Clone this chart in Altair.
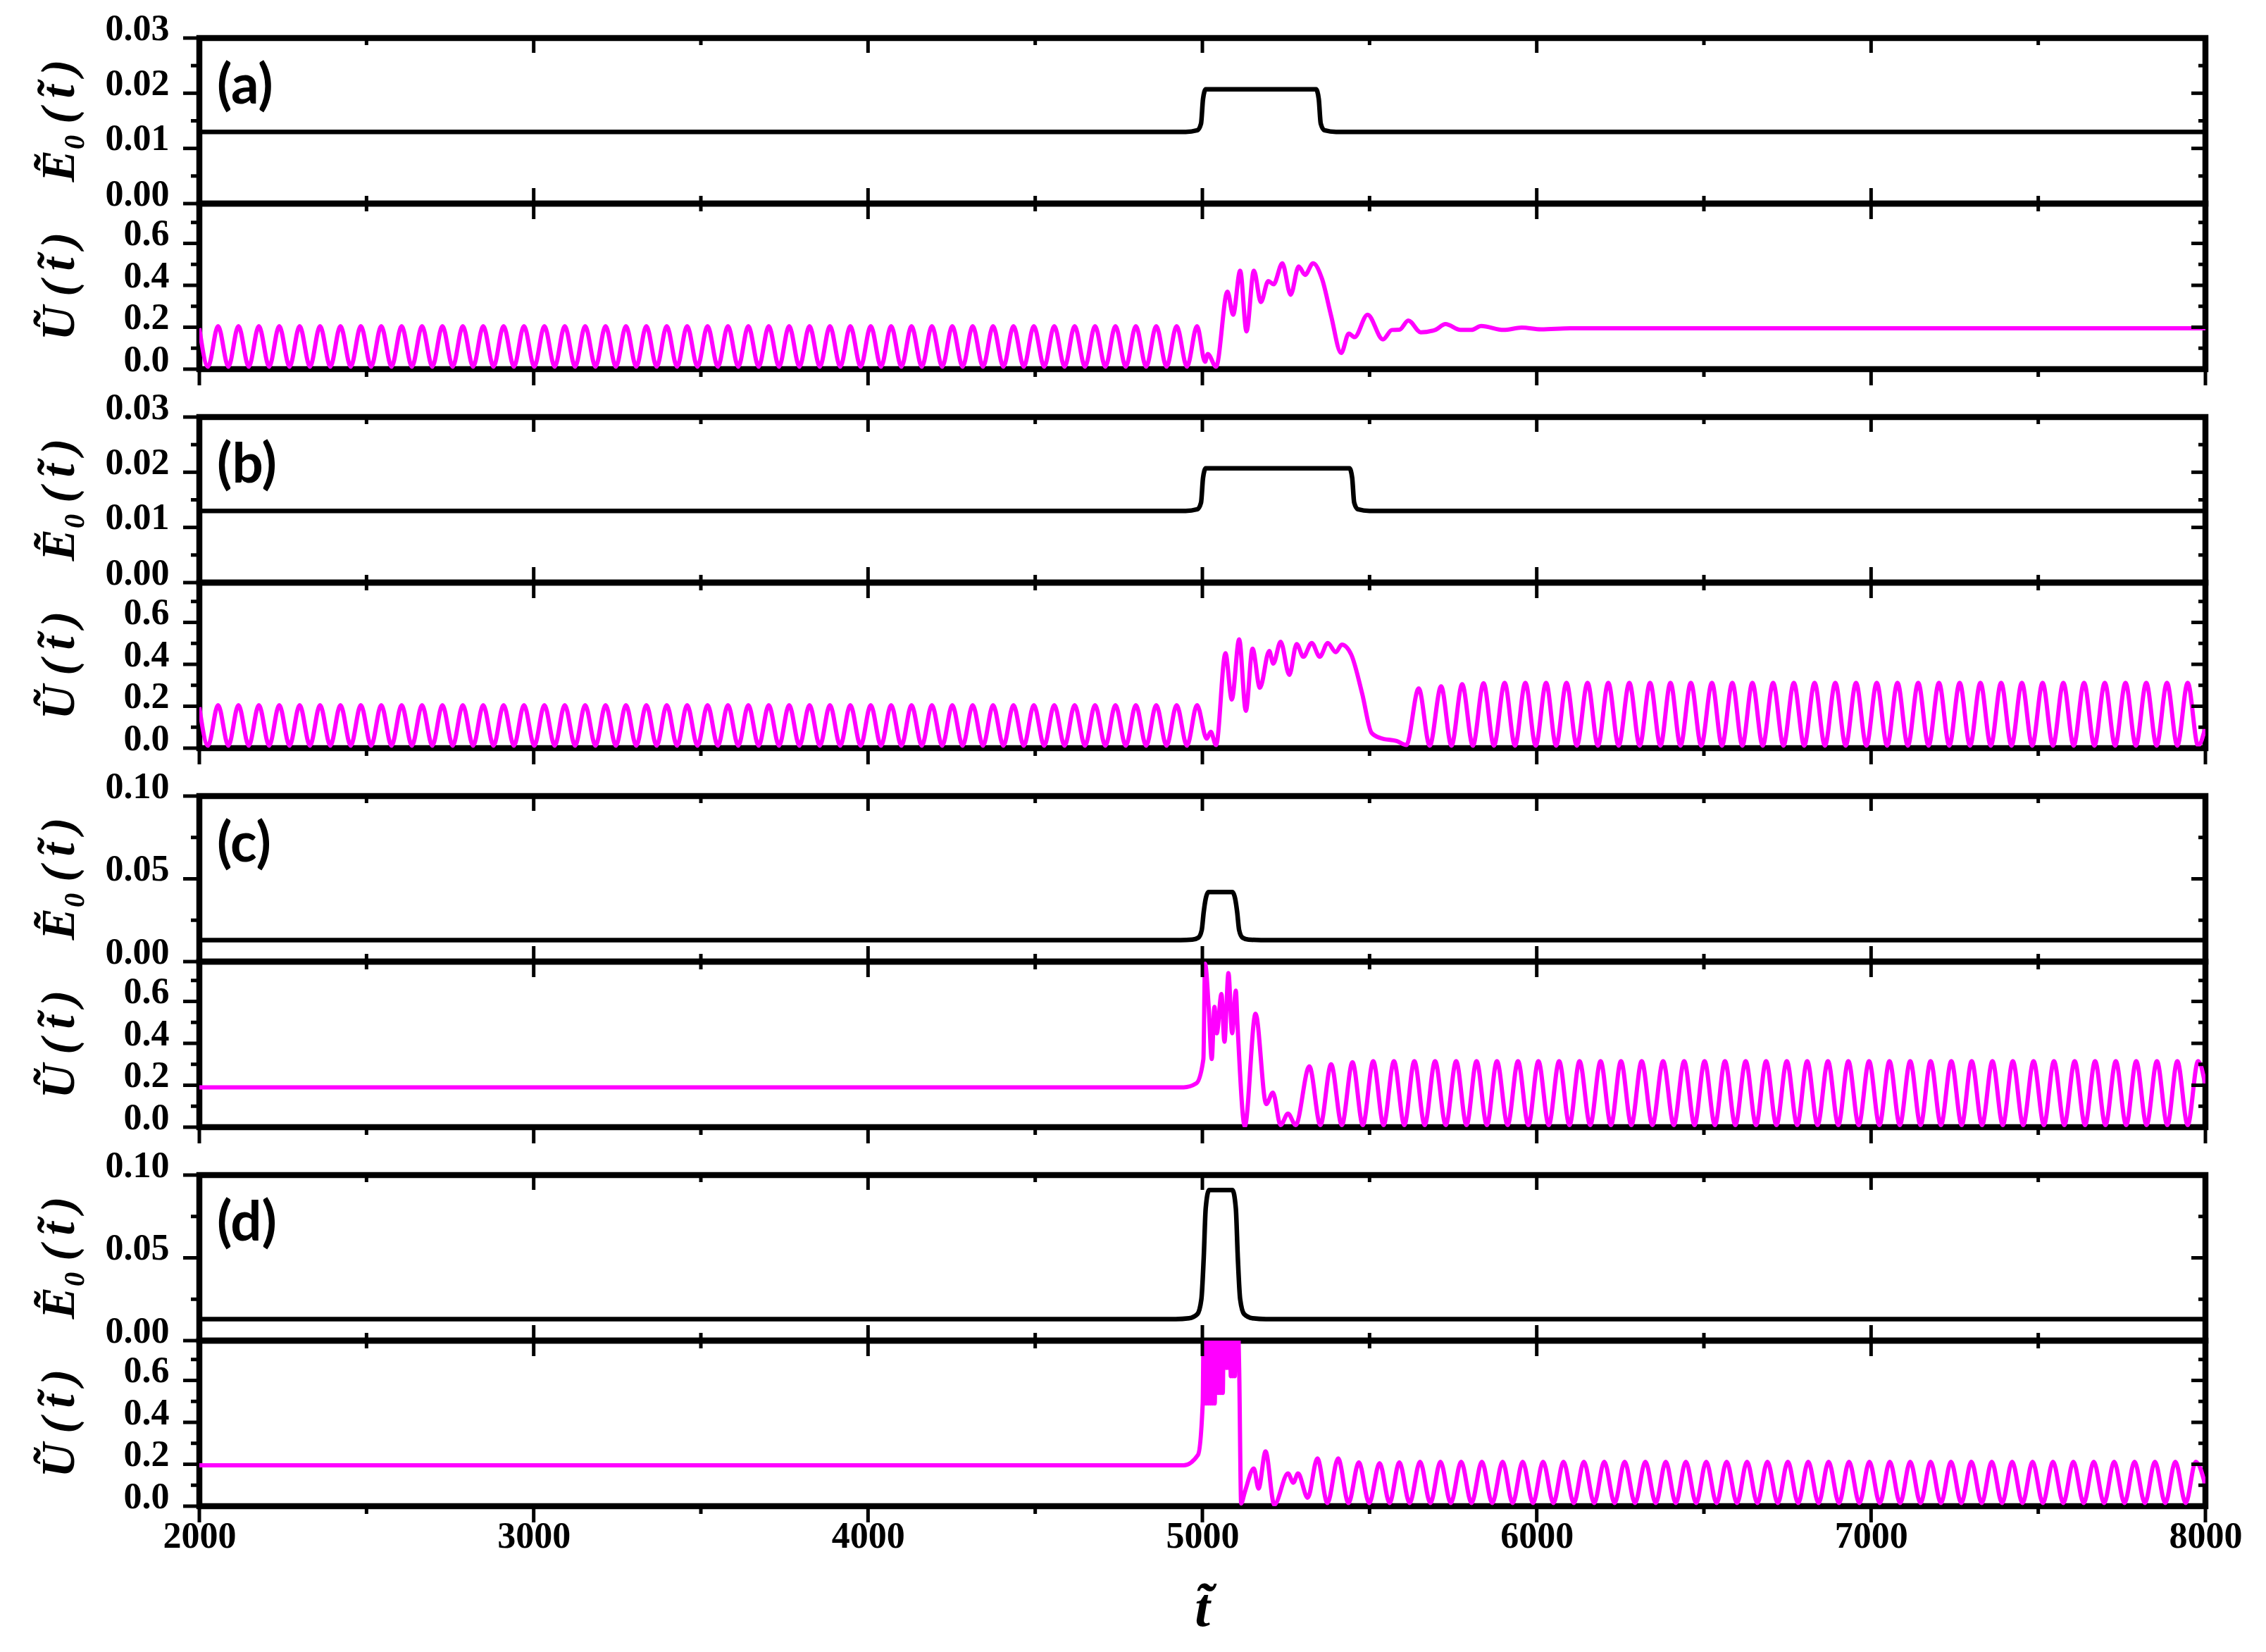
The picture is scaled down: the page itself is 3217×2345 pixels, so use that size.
import altair as alt
import pandas as pd

# ---------------- axes / ticks ----------------
X_DOMAIN = [2000, 8000]
X_MAJOR = [2000, 3000, 4000, 5000, 6000, 7000, 8000]
X_MINOR = [2500, 3500, 4500, 5500, 6500, 7500]

E_DOM_AB = [0, 0.03]
E_MAJOR_AB = [0, 0.01, 0.02, 0.03]
E_MINOR_AB = [0.005, 0.015, 0.025]
E_DOM_CD = [0, 0.10]
E_MAJOR_CD = [0, 0.05, 0.10]
E_MINOR_CD = [0.025, 0.075]
U_DOM = [0, 0.79]
U_MAJOR = [0, 0.2, 0.4, 0.6]
U_MINOR = [0.1, 0.3, 0.5, 0.7]
PANEL_LABELS = ["(a)", "(b)", "(c)", "(d)"]
E_TITLE = "E\u0303\u2080\u2009(\u2009t\u0303\u2009)"
U_TITLE = "U\u0303\u2009(\u2009t\u0303\u2009)"
X_TITLE = "t\u0303"

# ---------------- E0(t) pulses ----------------
E_A_T = [2000, 4950, 4985, 4996, 5002, 5010, 5340, 5348, 5354, 5365, 5400, 8000]
E_A_V = [0.013, 0.013, 0.0133, 0.0145, 0.019, 0.0207, 0.0207, 0.019, 0.0145, 0.0133, 0.013, 0.013]
E_B_T = [2000, 4950, 4985, 4996, 5002, 5010, 5440, 5448, 5454, 5465, 5500, 8000]
E_B_V = [0.013, 0.013, 0.0133, 0.0145, 0.019, 0.0207, 0.0207, 0.019, 0.0145, 0.0133, 0.013, 0.013]
E_C_T = [2000, 4935, 4970, 4988, 4998, 5004, 5010, 5018, 5090, 5098, 5104, 5110, 5120, 5138, 5175, 8000]
E_C_V = [0.013, 0.013, 0.0133, 0.0145, 0.019, 0.03, 0.038, 0.042, 0.042, 0.038, 0.03, 0.019, 0.0145, 0.0133, 0.013, 0.013]
E_D_T = [2000, 4920, 4960, 4985, 4997, 5004, 5010, 5020, 5090, 5100, 5106, 5113, 5125, 5150, 5190, 8000]
E_D_V = [0.013, 0.013, 0.0135, 0.016, 0.025, 0.05, 0.08, 0.091, 0.091, 0.08, 0.05, 0.025, 0.016, 0.0135, 0.013, 0.013]

# ---------------- U(t), panels (a) and (b): oscillation before the pulse ----------------
PRE_PEAK_T = [2056, 2117, 2178, 2239, 2300, 2361, 2422, 2483, 2544, 2605, 2666, 2727, 2788,
              2849, 2910, 2971, 3032, 3093, 3154, 3215, 3276, 3337, 3398, 3459, 3520, 3581,
              3642, 3703, 3764, 3825, 3886, 3947, 4008, 4069, 4130, 4191, 4252, 4313, 4374,
              4435, 4496, 4557, 4618, 4679, 4740, 4801, 4862, 4923, 4984]
PRE_TROUGH_T = [2026, 2087, 2148, 2209, 2270, 2331, 2392, 2453, 2514, 2575, 2636, 2697, 2758,
                2819, 2880, 2941, 3002, 3063, 3124, 3185, 3246, 3307, 3368, 3429, 3490, 3551,
                3612, 3673, 3734, 3795, 3856, 3917, 3978, 4039, 4100, 4161, 4222, 4283, 4344,
                4405, 4466, 4527, 4588, 4649, 4710, 4771, 4832, 4893, 4954]
PRE_PEAK_U = 0.205
PRE_TROUGH_U = 0.012
PRE_START = [(2000, 0.195)]

# ---------------- U(t), panel (a) ----------------
A_TRANS = [(5008, 0.035), (5016, 0.072), (5041, 0.012), (5075, 0.37), (5092, 0.26), (5113, 0.47),
           (5132, 0.18), (5154, 0.47), (5175, 0.32), (5197, 0.42), (5213, 0.405), (5239, 0.505),
           (5264, 0.355), (5288, 0.49), (5307, 0.45), (5331, 0.505), (5358, 0.43), (5385, 0.255),
           (5415, 0.077), (5438, 0.17), (5455, 0.153), (5494, 0.26), (5540, 0.142), (5567, 0.187),
           (5589, 0.188), (5616, 0.232), (5653, 0.176), (5696, 0.187), (5727, 0.215), (5772, 0.187),
           (5804, 0.187), (5834, 0.206), (5901, 0.187), (5955, 0.198), (6013, 0.19), (6100, 0.195),
           (8000, 0.195)]

# ---------------- U(t), panel (b) ----------------
B_TRANS = [(5013, 0.045), (5025, 0.078), (5041, 0.015), (5069, 0.453), (5088, 0.232), (5110, 0.519),
           (5130, 0.178), (5150, 0.475), (5172, 0.288), (5200, 0.464), (5212, 0.403), (5234, 0.508),
           (5260, 0.35), (5282, 0.497), (5302, 0.436), (5327, 0.502), (5351, 0.436), (5375, 0.502),
           (5399, 0.458), (5417, 0.494), (5445, 0.447), (5478, 0.26), (5506, 0.073), (5533, 0.048),
           (5581, 0.034), (5610, 0.015)]
B_FIRST_PEAKS = [(5647, 0.285), (5714, 0.295), (5777, 0.305), (5841, 0.31)]
B_PEAK_T = [5904, 5966, 6028, 6089, 6152, 6214, 6277, 6339, 6400, 6461, 6524, 6585, 6645, 6707,
            6769, 6831, 6893, 6955, 7017, 7079, 7141, 7203, 7265, 7327, 7389, 7451, 7513, 7575,
            7637, 7699, 7761, 7823, 7885, 7947]
B_PEAK_U = 0.312
B_TROUGH_T = [5680, 5745, 5809, 5872, 5935, 5997, 6058, 6120, 6183, 6245, 6308, 6370, 6430, 6492,
              6554, 6615, 6676, 6738, 6800, 6862, 6924, 6986, 7048, 7110, 7172, 7234, 7296, 7358,
              7420, 7482, 7544, 7606, 7668, 7730, 7792, 7854, 7916, 7978]
B_TROUGH_U = 0.012
B_END = [(8000, 0.1)]

# ---------------- U(t), panel (c) ----------------
C_PRE = [(2000, 0.19), (4944, 0.19)]
C_TRANS = [(4982, 0.209), (5003, 0.325), (5008, 0.78), (5019, 0.569), (5028, 0.325), (5036, 0.574),
           (5043, 0.448), (5057, 0.635), (5066, 0.408), (5078, 0.735), (5089, 0.448), (5100, 0.651),
           (5105, 0.491), (5127, 0.005), (5159, 0.541), (5191, 0.11), (5211, 0.165), (5234, 0.01),
           (5256, 0.065), (5279, 0.01)]
C_FIRST_PEAKS = [(5320, 0.29), (5385, 0.30), (5449, 0.31)]
C_PEAK_T = [5511, 5573, 5634, 5696, 5759, 5820, 5881, 5944, 6005, 6067, 6128, 6191, 6252, 6314,
            6378, 6441, 6502, 6563, 6625, 6686, 6748, 6809, 6871, 6932, 6994, 7055, 7117, 7178,
            7240, 7301, 7363, 7424, 7486, 7547, 7609, 7670, 7732, 7793, 7855, 7916, 7978]
C_PEAK_U = 0.315
C_TROUGH_T = [5353, 5417, 5480, 5542, 5604, 5665, 5728, 5790, 5851, 5913, 5975, 6036, 6098, 6160,
              6222, 6283, 6346, 6410, 6472, 6533, 6594, 6656, 6717, 6779, 6840, 6902, 6963, 7025,
              7086, 7148, 7209, 7271, 7332, 7394, 7455, 7517, 7578, 7640, 7701, 7763, 7824, 7886,
              7947]
C_TROUGH_U = 0.01
C_END = [(8000, 0.2)]

# ---------------- U(t), panel (d) ----------------
D_PRE = [(2000, 0.195), (4944, 0.195), (4987, 0.245), (5001, 0.49)]
D_BLOCK_T = [5004, 5007, 5010, 5013, 5016, 5019, 5022, 5025, 5028, 5031, 5034, 5037, 5040, 5043,
             5046, 5049, 5052, 5055, 5058, 5061, 5064, 5067, 5070, 5073, 5076, 5079, 5082, 5085,
             5088, 5091, 5094, 5097, 5100, 5103, 5106]
D_BLOCK_U = [0.9, 0.49, 0.9, 0.49, 0.9, 0.49, 0.9, 0.49, 0.9, 0.49, 0.9, 0.49, 0.9, 0.54,
             0.9, 0.54, 0.9, 0.54, 0.9, 0.54, 0.9, 0.66, 0.9, 0.66, 0.9, 0.66, 0.9, 0.62,
             0.9, 0.62, 0.9, 0.62, 0.9, 0.66, 0.9]
D_TRANS = [(5110, 0.66), (5116, 0.013), (5127, 0.068), (5154, 0.18), (5168, 0.084), (5189, 0.261),
           (5215, 0.007), (5256, 0.156), (5272, 0.112), (5286, 0.156), (5315, 0.04)]
D_FIRST_PEAKS = [(5344, 0.228), (5406, 0.228), (5468, 0.209), (5530, 0.205), (5589, 0.209)]
D_PEAK_T = [5651, 5712, 5774, 5836, 5898, 5958, 6019, 6080, 6141, 6202, 6263, 6325, 6386, 6446,
            6507, 6568, 6629, 6690, 6751, 6812, 6873, 6934, 6995, 7056, 7117, 7178, 7239, 7300,
            7361, 7422, 7483, 7544, 7605, 7666, 7727, 7788, 7849, 7910, 7971]
D_PEAK_U = 0.212
D_TROUGH_T = [5374, 5437, 5499, 5560, 5620, 5682, 5743, 5805, 5867, 5928, 5989, 6050, 6111, 6172,
              6233, 6294, 6356, 6416, 6477, 6538, 6599, 6660, 6721, 6782, 6843, 6904, 6965, 7026,
              7087, 7148, 7209, 7270, 7331, 7392, 7453, 7514, 7575, 7636, 7697, 7758, 7819, 7880,
              7941]
D_TROUGH_U = 0.015
D_END = [(8000, 0.1)]


def level(times, value):
    return [(t, value) for t in times]


def frame(points):
    pts = sorted(points, key=lambda p: p[0])
    return pd.DataFrame({"t": [p[0] for p in pts], "v": [p[1] for p in pts]})


PRE = PRE_START + level(PRE_PEAK_T, PRE_PEAK_U) + level(PRE_TROUGH_T, PRE_TROUGH_U)
U_A = frame(PRE + A_TRANS)
U_B = frame(PRE + B_TRANS + B_FIRST_PEAKS + level(B_PEAK_T, B_PEAK_U)
            + level(B_TROUGH_T, B_TROUGH_U) + B_END)
U_C = frame(C_PRE + C_TRANS + C_FIRST_PEAKS + level(C_PEAK_T, C_PEAK_U)
            + level(C_TROUGH_T, C_TROUGH_U) + C_END)
U_D = frame(D_PRE + list(zip(D_BLOCK_T, D_BLOCK_U)) + D_TRANS + D_FIRST_PEAKS
            + level(D_PEAK_T, D_PEAK_U) + level(D_TROUGH_T, D_TROUGH_U) + D_END)
E_A = frame(list(zip(E_A_T, E_A_V)))
E_B = frame(list(zip(E_B_T, E_B_V)))
E_C = frame(list(zip(E_C_T, E_C_V)))
E_D = frame(list(zip(E_D_T, E_D_V)))

# ---------------- layout / style ----------------
W = 2848
H = 235
GAP = 68
SERIF = "Liberation Serif"
MAGENTA = "#ff00ff"
TICK_W = 5

Y_AXIS = dict(title=None, ticks=False, tickSize=0, domain=False, grid=False, labelOverlap=False,
              labelFont=SERIF, labelFontWeight="bold", labelFontSize=52, labelColor="black",
              labelPadding=43, labelOffset=-14)

X_AXIS = dict(values=X_MAJOR, format="d", title=None, ticks=False, tickSize=0, domain=False,
              grid=False, labelFlush=False, labelOverlap=False,
              labelFont=SERIF, labelFontWeight="bold", labelFontSize=52, labelColor="black",
              labelPadding=17)


def xscale():
    return alt.Scale(domain=X_DOMAIN, nice=False, zero=False)


def ticks(values, channel, size, offset, pos, scale, axis):
    """Tick marks drawn from the tick values; every layer carries the same axis spec."""
    df = pd.DataFrame({"v": values})
    if channel == "y":
        return alt.Chart(df).mark_tick(orient="horizontal", size=size, thickness=TICK_W,
                                       color="black", opacity=1, xOffset=offset).encode(
            x=alt.value(pos), y=alt.Y("v:Q", scale=scale, axis=axis))
    return alt.Chart(df).mark_tick(orient="vertical", size=size, thickness=TICK_W,
                                   color="black", opacity=1, yOffset=offset).encode(
        y=alt.value(pos), x=alt.X("v:Q", scale=scale, axis=axis))


def ytitle(text):
    return alt.Chart(pd.DataFrame({"l": [text]})).mark_text(
        font=SERIF, fontWeight="bold", fontStyle="italic", fontSize=68, angle=270,
        align="center", baseline="bottom", color="black").encode(
        text="l:N", x=alt.value(-164), y=alt.value(H / 2))


def e_panel(df, dom, major, minor, fmt, label):
    xs = xscale()
    ys = alt.Scale(domain=dom, nice=False, zero=False)
    yaxis = alt.Axis(values=major, format=fmt, **Y_AXIS)
    line = alt.Chart(df).mark_line(color="black", strokeWidth=6.5, interpolate="monotone").encode(
        x=alt.X("t:Q", scale=xs, axis=None),
        y=alt.Y("v:Q", scale=ys, axis=yaxis))
    txt = alt.Chart(pd.DataFrame({"l": [label]})).mark_text(
        font="Lato", fontWeight="bold", fontSize=78, align="left", baseline="middle",
        color="black").encode(text="l:N", x=alt.value(25), y=alt.value(70))
    layers = [line,
              ticks(major, "y", 23, -11.5, 0, ys, yaxis), ticks(minor, "y", 12, -6, 0, ys, yaxis),
              ticks(major, "y", 20, -10, W, ys, yaxis), ticks(minor, "y", 10, -5, W, ys, yaxis),
              ticks(X_MAJOR, "x", 21, 10.5, 0, xs, None), ticks(X_MINOR, "x", 10, 5, 0, xs, None),
              txt, ytitle(E_TITLE)]
    return alt.layer(*layers).properties(width=W, height=H)


def u_panel(df, bottom_axis):
    xs = xscale()
    ys = alt.Scale(domain=U_DOM, nice=False, zero=False)
    yaxis = alt.Axis(values=U_MAJOR, format=".1f", **Y_AXIS)
    xaxis = alt.Axis(**X_AXIS) if bottom_axis else None
    line = alt.Chart(df).mark_line(color=MAGENTA, strokeWidth=6, interpolate="monotone",
                                   clip=True).encode(
        x=alt.X("t:Q", scale=xs, axis=xaxis),
        y=alt.Y("v:Q", scale=ys, axis=yaxis))
    layers = [line,
              ticks(U_MAJOR, "y", 23, -11.5, 0, ys, yaxis), ticks(U_MINOR, "y", 12, -6, 0, ys, yaxis),
              ticks(U_MAJOR, "y", 20, -10, W, ys, yaxis), ticks(U_MINOR, "y", 10, -5, W, ys, yaxis),
              ticks(X_MAJOR, "x", 44, 0, 0, xs, xaxis), ticks(X_MINOR, "x", 22, 0, 0, xs, xaxis),
              ticks(X_MAJOR, "x", 23, 11.5, H, xs, xaxis), ticks(X_MINOR, "x", 11, 5.5, H, xs, xaxis),
              ytitle(U_TITLE)]
    if bottom_axis:
        layers.append(alt.Chart(pd.DataFrame({"l": [X_TITLE]})).mark_text(
            font=SERIF, fontWeight="bold", fontStyle="italic", fontSize=78,
            align="center", baseline="alphabetic", color="black").encode(
            text="l:N", x=alt.value(W / 2), y=alt.value(H + 170)))
    return alt.layer(*layers).properties(width=W, height=H)


def spacer():
    return alt.Chart(pd.DataFrame({"v": [0]})).mark_point(opacity=0).encode(
        x=alt.value(0), y=alt.value(0)).properties(
        width=W, height=GAP, view=alt.ViewBackground(strokeOpacity=0, fillOpacity=0))


panels = [
    e_panel(E_A, E_DOM_AB, E_MAJOR_AB, E_MINOR_AB, ".2f", PANEL_LABELS[0]), u_panel(U_A, False),
    spacer(),
    e_panel(E_B, E_DOM_AB, E_MAJOR_AB, E_MINOR_AB, ".2f", PANEL_LABELS[1]), u_panel(U_B, False),
    spacer(),
    e_panel(E_C, E_DOM_CD, E_MAJOR_CD, E_MINOR_CD, ".2f", PANEL_LABELS[2]), u_panel(U_C, False),
    spacer(),
    e_panel(E_D, E_DOM_CD, E_MAJOR_CD, E_MINOR_CD, ".2f", PANEL_LABELS[3]), u_panel(U_D, True),
]

chart = alt.vconcat(*panels, spacing=0, bounds="flush").properties(
    padding={"left": 38, "top": 1, "right": 10, "bottom": 20},
    background="white",
).configure_view(stroke="black", strokeWidth=8.5)

chart.save("out.html", embed_options={"renderer": "svg", "actions": False})
